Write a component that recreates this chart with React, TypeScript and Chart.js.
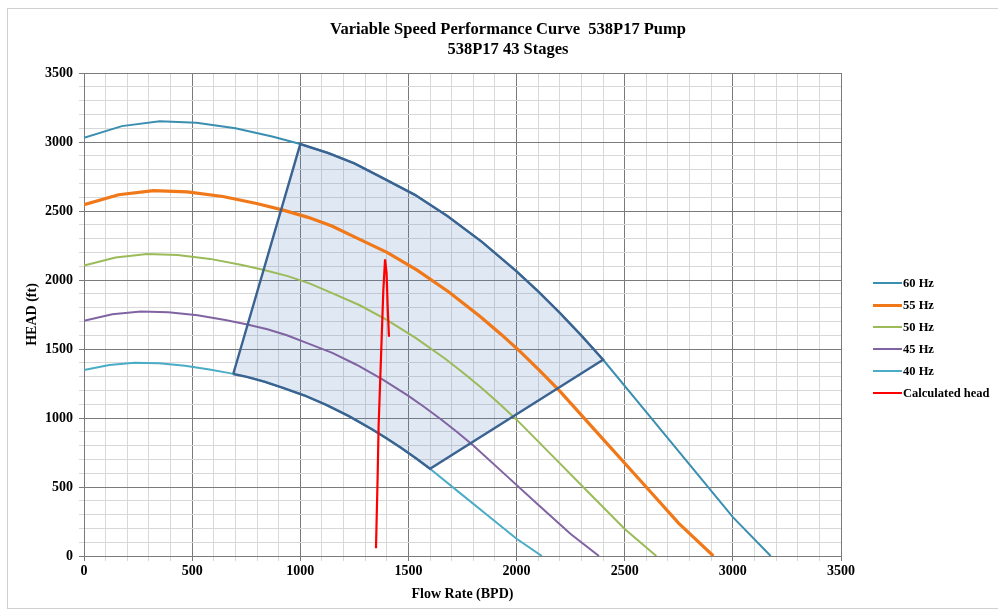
import { useEffect, useRef } from 'react';
import { Chart, registerables } from 'chart.js';
Chart.register(...registerables);

// ---- data (Flow Rate BPD, Head ft) ----
const flow60 = [0, 175, 350, 520, 700, 870, 1000, 1130, 1250, 1380, 1530, 1680, 1840, 2000, 2100, 2200, 2300, 2400, 2600, 2800, 3000, 3175];
const head60 = [3030, 3115, 3150, 3140, 3100, 3040, 2985, 2920, 2845, 2740, 2617, 2464, 2276, 2063, 1917, 1762, 1597, 1422, 1042, 662, 282, 0];

const flow55 = [0, 160, 321, 477, 642, 798, 917, 1036, 1146, 1265, 1403, 1540, 1687, 1833, 1925, 2017, 2108, 2200, 2383, 2567, 2750, 2910];
const head55 = [2546, 2618, 2647, 2639, 2605, 2554, 2508, 2454, 2391, 2302, 2199, 2071, 1913, 1734, 1611, 1481, 1342, 1195, 876, 556, 237, 0];

const flow50 = [0, 146, 292, 433, 583, 725, 833, 942, 1042, 1150, 1275, 1400, 1533, 1667, 1750, 1833, 1917, 2000, 2167, 2333, 2500, 2646];
const head50 = [2104, 2163, 2188, 2181, 2153, 2111, 2073, 2028, 1976, 1903, 1817, 1711, 1581, 1433, 1331, 1224, 1109, 988, 724, 460, 196, 0];

const flow45 = [0, 131, 263, 390, 525, 653, 750, 848, 938, 1035, 1148, 1260, 1380, 1500, 1575, 1650, 1725, 1800, 1950, 2100, 2250, 2381];
const head45 = [1704, 1752, 1772, 1766, 1744, 1710, 1679, 1643, 1600, 1541, 1472, 1386, 1280, 1160, 1078, 991, 898, 800, 586, 372, 159, 0];

const flow40 = [0, 117, 233, 347, 467, 580, 667, 753, 833, 920, 1020, 1120, 1227, 1333, 1400, 1467, 1533, 1600, 1733, 1867, 2000, 2117];
const head40 = [1347, 1384, 1400, 1396, 1378, 1351, 1327, 1298, 1264, 1218, 1163, 1095, 1012, 917, 852, 783, 710, 632, 463, 294, 125, 0];

// operating range envelope
const flowRange = [690, 1000, 1130, 1250, 1380, 1530, 1680, 1840, 2000, 2100, 2200, 2300, 2400, 1600, 1533, 1467, 1400, 1333, 1227, 1120, 1020, 920, 833, 753, 690];
const headRange = [1319, 2985, 2920, 2845, 2740, 2617, 2464, 2276, 2063, 1917, 1762, 1597, 1422, 632, 710, 783, 852, 917, 1012, 1095, 1163, 1218, 1264, 1298, 1319];

// calculated head trace
const flowCalc = [1350, 1358, 1362, 1369, 1376, 1384, 1392, 1399, 1404, 1410];
const headCalc = [56, 599, 937, 1251, 1565, 1928, 2150, 2048, 1807, 1589];

const seriesLabels = ['60 Hz', '55 Hz', '50 Hz', '45 Hz', '40 Hz', 'Calculated head'];
const seriesColors = ['#3a8fb0', '#f07818', '#9bbb59', '#8064a2', '#4bacc6', '#ff0000'];
const seriesWidths = [2, 3.2, 2, 2, 2, 2.2];

const titleLines = ['Variable Speed Performance Curve  538P17 Pump', '538P17 43 Stages'];
const xTitle = 'Flow Rate (BPD)';
const yTitle = 'HEAD (ft)';

const FONT = "'Liberation Serif', 'Times New Roman', serif";

const pts = (xs: number[], ys: number[]) => xs.map((x, i) => ({ x, y: ys[i] }));

export default function App() {
  const ref = useRef<HTMLCanvasElement>(null);

  useEffect(() => {
    if (!ref.current) return;
    const polyFill = {
      id: 'polyFill',
      beforeDatasetsDraw(chart: any) {
        const idx = chart.data.datasets.findIndex((d: any) => d.label === 'range');
        const meta = chart.getDatasetMeta(idx);
        const ctx = chart.ctx;
        const a = chart.chartArea;
        ctx.save();
        ctx.beginPath();
        ctx.rect(a.left, a.top, a.right - a.left, a.bottom - a.top);
        ctx.clip();
        ctx.beginPath();
        meta.data.forEach((p: any, i: number) => {
          if (i === 0) ctx.moveTo(p.x, p.y);
          else ctx.lineTo(p.x, p.y);
        });
        ctx.closePath();
        ctx.fillStyle = 'rgba(79,129,189,0.18)';
        ctx.fill();
        ctx.restore();
      },
    };

    const curves = [
      pts(flow60, head60),
      pts(flow55, head55),
      pts(flow50, head50),
      pts(flow45, head45),
      pts(flow40, head40),
    ];

    const datasets: any[] = curves.map((d, i) => ({
      label: seriesLabels[i],
      data: d,
      borderColor: seriesColors[i],
      backgroundColor: seriesColors[i],
      borderWidth: seriesWidths[i],
      showLine: true,
      pointRadius: 0,
      tension: 0,
      order: 3,
    }));
    datasets.push({
      label: 'range',
      data: pts(flowRange, headRange),
      borderColor: '#3b6391',
      backgroundColor: 'rgba(0,0,0,0)',
      borderWidth: 2.4,
      showLine: true,
      pointRadius: 0,
      tension: 0,
      order: 2,
    });
    datasets.push({
      label: seriesLabels[5],
      data: pts(flowCalc, headCalc),
      borderColor: seriesColors[5],
      backgroundColor: seriesColors[5],
      borderWidth: seriesWidths[5],
      showLine: true,
      pointRadius: 0,
      tension: 0,
      order: 1,
    });

    const gridColor = (c: any) =>
      c.tick && c.tick.value % 500 === 0 ? '#7a7a7a' : '#d8d8d8';
    const tickFont = { family: FONT, size: 14, weight: 'bold' as const };

    const chart = new Chart(ref.current, {
      type: 'scatter',
      data: { datasets },
      plugins: [polyFill],
      options: {
        animation: false,
        responsive: false,
        layout: { padding: { left: 0, top: 73, right: 157, bottom: 0 } },
        plugins: {
          legend: { display: false },
          title: { display: false },
          tooltip: { enabled: false },
        },
        scales: {
          x: {
            type: 'linear',
            min: 0,
            max: 3500,
            afterFit: (s: any) => {
              s.height = 56;
            },
            ticks: {
              stepSize: 100,
              autoSkip: false,
              maxRotation: 0,
              padding: 2,
              color: '#000',
              font: tickFont,
              callback: (v: any) => (Number(v) % 500 === 0 ? String(v) : ''),
            },
            grid: { color: gridColor, tickLength: 5, lineWidth: 1 },
            border: { color: '#7a7a7a' },
            title: {
              display: true,
              text: xTitle,
              color: '#000',
              font: tickFont,
              padding: { top: 0, bottom: 9 },
            },
          },
          y: {
            type: 'linear',
            min: 0,
            max: 3500,
            afterFit: (s: any) => {
              s.width = 84;
            },
            ticks: {
              stepSize: 100,
              autoSkip: false,
              padding: 6,
              color: '#000',
              font: tickFont,
              callback: (v: any) => (Number(v) % 500 === 0 ? String(v) : ''),
            },
            grid: { color: gridColor, tickLength: 5, lineWidth: 1 },
            border: { color: '#7a7a7a' },
            title: {
              display: true,
              text: yTitle,
              color: '#000',
              font: tickFont,
              padding: { top: 24, bottom: 0 },
            },
          },
        },
      },
    });
    return () => chart.destroy();
  }, []);

  return (
    <div
      style={{
        position: 'fixed',
        left: 0,
        top: 0,
        width: 998,
        height: 612,
        background: '#fff',
        overflow: 'hidden',
      }}
    >
      <div
        style={{
          position: 'absolute',
          left: 7,
          top: 8,
          width: 1000,
          height: 599,
          borderLeft: '1px solid #d0d0d0',
          borderTop: '1px solid #d0d0d0',
          borderBottom: '1px solid #d0d0d0',
        }}
      />
      <canvas ref={ref} width={998} height={612} style={{ position: 'absolute', left: 0, top: 0 }} />
      <div
        style={{
          position: 'absolute',
          left: 0,
          top: 19,
          width: 1016,
          textAlign: 'center',
          fontFamily: FONT,
          fontWeight: 'bold',
          fontSize: 16.5,
          lineHeight: '20px',
          color: '#000',
          whiteSpace: 'pre',
        }}
      >
        {titleLines.map((t, i) => (
          <div key={i}>{t}</div>
        ))}
      </div>
      {seriesLabels.map((lab, i) => (
        <div
          key={lab}
          style={{
            position: 'absolute',
            left: 873,
            top: 283 + i * 22 - 8,
            height: 16,
            display: 'flex',
            alignItems: 'center',
            fontFamily: FONT,
            fontWeight: 'bold',
            fontSize: 12.5,
            color: '#000',
            whiteSpace: 'nowrap',
          }}
        >
          <div style={{ width: 29, height: Math.max(2, Math.round(seriesWidths[i])), background: seriesColors[i] }} />
          <span style={{ marginLeft: 1 }}>{lab}</span>
        </div>
      ))}
    </div>
  );
}
